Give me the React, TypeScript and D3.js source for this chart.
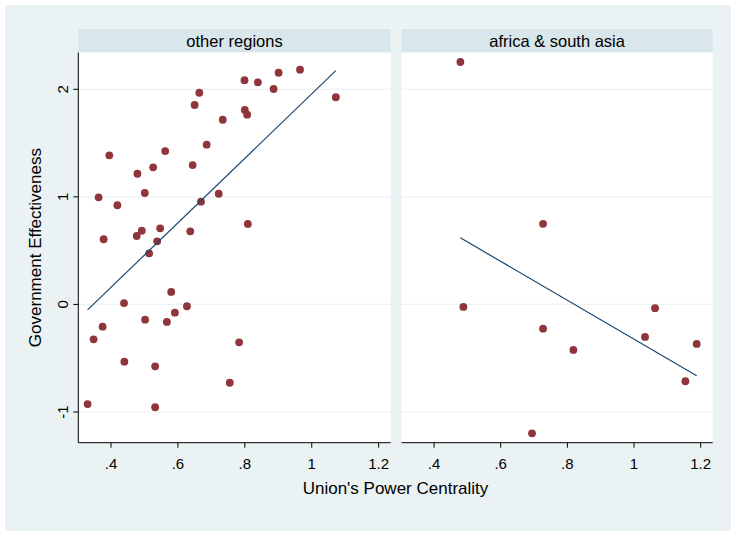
import React from "react";
import * as d3 from "d3";

// ---- data ----
const panels = ["other regions", "africa & south asia"];

const otherX = [0.799, 0.839, 0.901, 0.965, 0.886, 1.072, 0.664, 0.65, 0.8, 0.807, 0.734, 0.686, 0.562, 0.395, 0.644, 0.526, 0.479, 0.363, 0.501, 0.722, 0.669, 0.419, 0.809, 0.378, 0.477, 0.492, 0.547, 0.538, 0.637, 0.514, 0.58, 0.439, 0.627, 0.591, 0.502, 0.567, 0.375, 0.348, 0.783, 0.44, 0.532, 0.755, 0.33, 0.532];
const otherY = [2.085, 2.065, 2.154, 2.182, 2.003, 1.926, 1.968, 1.854, 1.808, 1.764, 1.717, 1.485, 1.426, 1.386, 1.296, 1.275, 1.215, 0.996, 1.036, 1.029, 0.955, 0.922, 0.748, 0.606, 0.636, 0.686, 0.708, 0.587, 0.68, 0.475, 0.116, 0.013, -0.017, -0.077, -0.142, -0.163, -0.207, -0.324, -0.352, -0.532, -0.575, -0.728, -0.926, -0.956];

const africaX = [0.479, 0.727, 0.488, 0.727, 0.818, 1.063, 1.033, 1.188, 1.154, 0.694];
const africaY = [2.254, 0.749, -0.023, -0.225, -0.423, -0.035, -0.302, -0.367, -0.714, -1.198];

const xTicks = [0.4, 0.6, 0.8, 1, 1.2];
const xTickLabels = [".4", ".6", ".8", "1", "1.2"];
const yTicks = [-1, 0, 1, 2];
const yTickLabels = ["-1", "0", "1", "2"];

const xTitle = "Union's Power Centrality";
const yTitle = "Government Effectiveness";

// ---- layout ----
const W = 731;
const H = 534;
const BG = "#eaf2f3";
const STRIP = "#d9e6eb";
const MARKER = "#90353b";
const LINE = "#1a476f";
const FONT = "'Liberation Sans', Arial, Helvetica, sans-serif";

const plotTop = 52.5;
const plotBottom = 442.7;
const stripTop = 29;
const panelRanges: [number, number][] = [
  [78.3, 390.7],
  [401.5, 712.7],
];
const xDomain: [number, number] = [0.3023, 1.236];

function ols(xs: number[], ys: number[]) {
  const mx = d3.mean(xs)!;
  const my = d3.mean(ys)!;
  let sxy = 0;
  let sxx = 0;
  xs.forEach((x, i) => {
    sxy += (x - mx) * (ys[i] - my);
    sxx += (x - mx) * (x - mx);
  });
  const b = sxy / sxx;
  const a = my - b * mx;
  const [x0, x1] = d3.extent(xs) as [number, number];
  return [
    [x0, a + b * x0],
    [x1, a + b * x1],
  ];
}

export default function App() {
  const y = d3.scaleLinear().domain([-1, 2]).range([412, 89.3]);
  const datasets = [
    { xs: otherX, ys: otherY },
    { xs: africaX, ys: africaY },
  ];

  return (
    <svg
      width={W}
      height={H}
      style={{ position: "absolute", left: 0, top: 0, display: "block" }}
      fontFamily={FONT}
    >
      <rect x={0} y={0} width={W} height={H} fill="#ffffff" />
      <rect x={5} y={5} width={W - 5} height={H - 8} fill={BG} />

      {panels.map((name, pi) => {
        const [left, right] = panelRanges[pi];
        const x = d3.scaleLinear().domain(xDomain).range([left, right]);
        const ds = datasets[pi];
        const fit = ols(ds.xs, ds.ys);
        const line = d3
          .line<number[]>()
          .x((d) => x(d[0]))
          .y((d) => y(d[1]));
        return (
          <g key={name}>
            {/* strip */}
            <rect x={left} y={stripTop} width={right - left} height={plotTop - stripTop} fill={STRIP} />
            <text
              x={(left + right) / 2}
              y={(stripTop + plotTop) / 2 + 6}
              textAnchor="middle"
              fontSize={16.5}
              fill="#000"
            >
              {name}
            </text>
            {/* plot region */}
            <rect x={left} y={plotTop} width={right - left} height={plotBottom - plotTop} fill="#fff" />
            {/* gridlines */}
            {yTicks.map((t) => (
              <line
                key={t}
                x1={left}
                x2={right}
                y1={y(t)}
                y2={y(t)}
                stroke={BG}
                strokeWidth={1.2}
              />
            ))}
            {/* markers */}
            {ds.xs.map((xv, i) => (
              <circle key={i} cx={x(xv)} cy={y(ds.ys[i])} r={3.9} fill={MARKER} />
            ))}
            {/* fit line */}
            <path d={line(fit) || ""} fill="none" stroke={LINE} strokeWidth={1.2} />
            {/* x axis */}
            <line x1={left} x2={right} y1={plotBottom} y2={plotBottom} stroke="#000" strokeWidth={1} />
            {xTicks.map((t, i) => (
              <g key={t}>
                <line x1={x(t)} x2={x(t)} y1={plotBottom} y2={plotBottom + 5} stroke="#000" strokeWidth={1} />
                <text x={x(t)} y={plotBottom + 26} textAnchor="middle" fontSize={15} fill="#000">
                  {xTickLabels[i]}
                </text>
              </g>
            ))}
          </g>
        );
      })}

      {/* y axis on left panel */}
      <line
        x1={panelRanges[0][0]}
        x2={panelRanges[0][0]}
        y1={plotTop}
        y2={plotBottom}
        stroke="#000"
        strokeWidth={1}
      />
      {yTicks.map((t, i) => (
        <g key={t}>
          <line
            x1={panelRanges[0][0] - 5}
            x2={panelRanges[0][0]}
            y1={y(t)}
            y2={y(t)}
            stroke="#000"
            strokeWidth={1}
          />
          <text
            transform={`translate(${panelRanges[0][0] - 10},${y(t)}) rotate(-90)`}
            textAnchor="middle"
            fontSize={15}
            fill="#000"
          >
            {yTickLabels[i]}
          </text>
        </g>
      ))}

      {/* axis titles */}
      <text
        x={(panelRanges[0][0] + panelRanges[1][1]) / 2}
        y={494}
        textAnchor="middle"
        fontSize={17}
        fill="#000"
      >
        {xTitle}
      </text>
      <text
        transform={`translate(41,${(plotTop + plotBottom) / 2}) rotate(-90)`}
        textAnchor="middle"
        fontSize={17}
        fill="#000"
      >
        {yTitle}
      </text>
    </svg>
  );
}
